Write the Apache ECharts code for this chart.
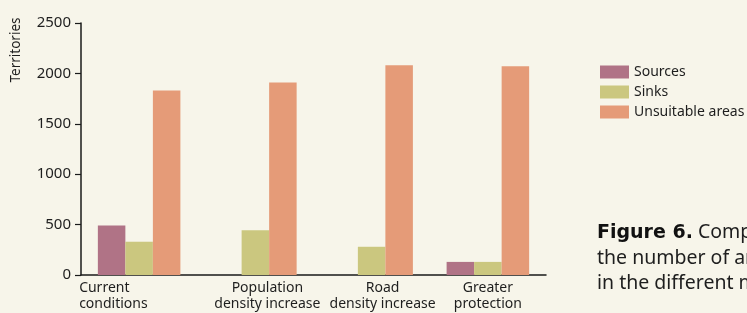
<!DOCTYPE html>
<html>
<head>
<meta charset="utf-8">
<script src="https://cdn.jsdelivr.net/npm/echarts@6/dist/echarts.min.js"></script>
<style>
html,body{margin:0;padding:0;background:#f7f5ea;}
#chart{width:747px;height:313px;}
</style>
</head>
<body>
<div id="chart"></div>
<script>
const categories = ['Current\nconditions', 'Population\ndensity increase', 'Road\ndensity increase', 'Greater\nprotection'];
const seriesNames = ['Sources', 'Sinks', 'Unsuitable areas'];
const sources = [490, 0, 0, 130];
const sinks = [330, 445, 280, 130];
const unsuitable = [1830, 1910, 2080, 2070];
const yTicks = [0, 500, 1000, 1500, 2000, 2500];
const yAxisTitle = 'Territories';
const captionLines = ['Comparison of', 'the number of areas', 'in the different models'];
const captionBold = 'Figure 6.';

const colors = ['#b07386', '#cbc77f', '#e59b78'];
const FONT = 'Noto Sans';

const chart = echarts.init(document.getElementById('chart'), null, {renderer: 'canvas'});

const richNames = ['c0', 'c1', 'c2', 'c3'];
const xs = {fontSize: 14, lineHeight: 16, color: '#1e1e1e', fontFamily: FONT};
const option = {
  backgroundColor: '#f7f5ea',
  animation: false,
  textStyle: {fontFamily: FONT},
  grid: {left: 81, right: 201, top: 23, bottom: 38, containLabel: false},
  legend: {
    orient: 'vertical',
    left: 595,
    top: 60,
    itemWidth: 29,
    itemHeight: 13,
    itemGap: 6,
    icon: 'rect',
    data: seriesNames,
    textStyle: {fontFamily: FONT, fontSize: 14, lineHeight: 14, color: '#1e1e1e'}
  },
  xAxis: {
    type: 'category',
    data: categories,
    axisLine: {show: true, lineStyle: {color: '#1a1a1a', width: 1.5}},
    axisTick: {show: false},
    axisLabel: {
      interval: 0,
      margin: 5,
      color: '#1e1e1e',
      fontFamily: FONT,
      fontSize: 14,
      lineHeight: 16,
      formatter: function (v, i) {
        return v.split('\n').map(function (s) { return '{' + richNames[i] + '|' + s + '}'; }).join('\n');
      },
      rich: {
        c0: Object.assign({width: 74, align: 'left', padding: [0, 46, 0, 0]}, xs),
        c1: Object.assign({padding: [0, 0, 0, 24]}, xs),
        c2: Object.assign({padding: [0, 0, 0, 22]}, xs),
        c3: Object.assign({padding: [0, 0, 0, 0]}, xs)
      }
    }
  },
  yAxis: {
    type: 'value',
    min: yTicks[0],
    max: yTicks[yTicks.length - 1],
    interval: yTicks[1] - yTicks[0],
    axisLine: {show: true, lineStyle: {color: '#1a1a1a', width: 1.5}},
    axisTick: {show: true, length: 6, lineStyle: {color: '#1a1a1a', width: 1.2}},
    splitLine: {show: false},
    axisLabel: {margin: 10, color: '#1e1e1e', fontFamily: FONT, fontSize: 15, formatter: function (v) { return String(v); }}
  },
  graphic: [
    {
      type: 'text',
      x: 16.5, y: 50,
      rotation: Math.PI / 2,
      style: {text: yAxisTitle, fontFamily: FONT, fontSize: 13.5, fill: '#1e1e1e', align: 'center', verticalAlign: 'middle'}
    },
    {
      type: 'text',
      left: 597, top: 220,
      style: {
        text: '{b|' + captionBold + '} ' + captionLines[0] + '\n' + captionLines[1] + '\n' + captionLines[2],
        fontFamily: FONT, fontSize: 19.5, lineHeight: 25.5, fill: '#1e1e1e',
        rich: {b: {fontWeight: 'bold', fontFamily: 'DejaVu Sans', fontSize: 19, lineHeight: 25.5, fill: '#111'}}
      }
    }
  ],
  series: [
    {name: seriesNames[0], type: 'bar', data: sources, itemStyle: {color: colors[0]}, barGap: '0%', barCategoryGap: '29%'},
    {name: seriesNames[1], type: 'bar', data: sinks, itemStyle: {color: colors[1]}, barGap: '0%', barCategoryGap: '29%'},
    {name: seriesNames[2], type: 'bar', data: unsuitable, itemStyle: {color: colors[2]}, barGap: '0%', barCategoryGap: '29%'}
  ]
};
chart.setOption(option);
</script>
</body>
</html>
